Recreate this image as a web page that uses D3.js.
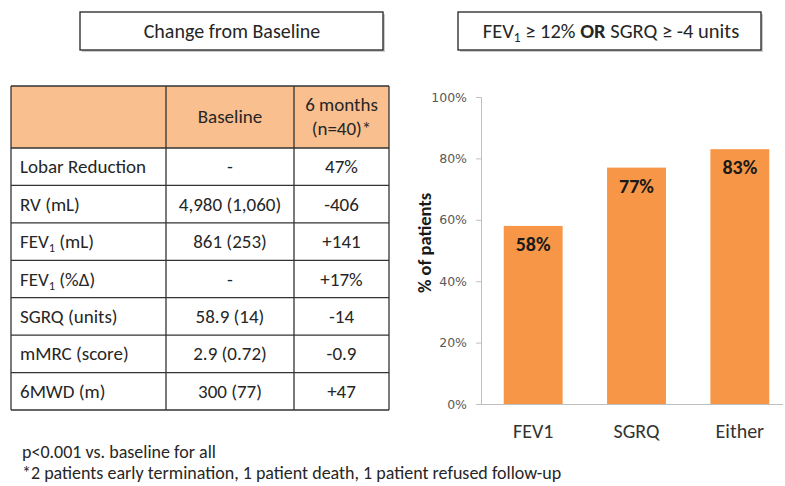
<!DOCTYPE html>
<html>
<head>
<meta charset="utf-8">
<script src="https://cdn.jsdelivr.net/npm/d3@7"></script>
<style>
  body { margin: 0; background: #fff; }
  text { font-family: Carlito, Lato, "Open Sans", sans-serif; }
</style>
</head>
<body>
<div id="chart"></div>
<script>
// table data
const columnHeaders = ["", "Baseline", "6 months|(n=40)*"];
const rowLabels = ["Lobar Reduction", "RV (mL)", "FEV_1 (mL)", "FEV_1 (%Δ)", "SGRQ  (units)", "mMRC (score)", "6MWD (m)"];
const baselineValues = ["-", "4,980 (1,060)", "861 (253)", "-", "58.9 (14)", "2.9 (0.72)", "300 (77)"];
const sixMonthValues = ["47%", "-406", "+141", "+17%", "-14", "-0.9", "+47"];

// bar chart data
const categories = ["FEV1", "SGRQ", "Either"];
const percentPatients = [0.58, 0.77, 0.83];
const yTicks = [0, 0.2, 0.4, 0.6, 0.8, 1.0];

const footnotes = [
  "p<0.001 vs. baseline for all",
  "*2 patients early termination, 1 patient death, 1 patient refused follow-up"
];

const width = 785, height = 486;
const textColor = "#262626";

const svg = d3.select("#chart").append("svg")
  .attr("width", width)
  .attr("height", height);

// write "FEV_1" style labels with a subscript tspan
const writeLabel = (sel, str) => {
  const parts = str.split("_1");
  parts.forEach((p, i) => {
    const ts = sel.append("tspan").text(p);
    if (i > 0) ts.attr("dy", -4);
    if (i < parts.length - 1) {
      sel.append("tspan").attr("font-size", "0.65em").attr("dy", 4).text("1");
    }
  });
};

// title boxes
const titleBox = (x, y, w, h) => {
  svg.append("rect")
    .attr("x", x + 2).attr("y", y + 2).attr("width", w).attr("height", h)
    .attr("fill", "#999").attr("opacity", 0.5);
  svg.append("rect")
    .attr("x", x).attr("y", y).attr("width", w).attr("height", h)
    .attr("fill", "#fff").attr("stroke", "#222").attr("stroke-width", 1.3);
};

titleBox(80, 12, 303, 38);
svg.append("text")
  .attr("x", 232).attr("y", 38)
  .attr("text-anchor", "middle")
  .attr("font-size", "20px")
  .attr("fill", textColor)
  .text("Change from Baseline");

titleBox(458, 12, 303, 38);
const t2 = svg.append("text")
  .attr("x", 611).attr("y", 38)
  .attr("text-anchor", "middle")
  .attr("font-size", "20.5px")
  .attr("fill", textColor);
t2.append("tspan").text("FEV");
t2.append("tspan").attr("font-size", "0.65em").attr("dy", 4).text("1");
t2.append("tspan").attr("dy", -4).text(" ≥ 12% ");
t2.append("tspan").attr("font-weight", "bold").text("OR");
t2.append("tspan").text(" SGRQ ≥ -4 units");

// ---- table ----
const colX = [11, 166, 294, 389];
const headerTop = 86, headerBottom = 148, tableBottom = 410;

const rowScale = d3.scaleBand()
  .domain(rowLabels)
  .range([headerBottom, tableBottom]);

const table = svg.append("g");

table.append("rect")
  .attr("x", colX[0]).attr("y", headerTop)
  .attr("width", colX[3] - colX[0]).attr("height", headerBottom - headerTop)
  .attr("fill", "#F9BF8F");

// header text
columnHeaders.forEach((h, i) => {
  if (!h) return;
  const lines = h.split("|");
  const cx = (colX[i] + colX[i + 1]) / 2;
  const cy = (headerTop + headerBottom) / 2;
  lines.forEach((ln, j) => {
    table.append("text")
      .attr("x", cx)
      .attr("y", cy + 6 + (j - (lines.length - 1) / 2) * 24)
      .attr("text-anchor", "middle")
      .attr("font-size", "19px")
      .attr("fill", textColor)
      .text(ln);
  });
});

// body rows
rowLabels.forEach((lab, i) => {
  const y = rowScale(lab) + rowScale.bandwidth() / 2 + 6.5;
  const t = table.append("text")
    .attr("x", colX[0] + 9).attr("y", y)
    .attr("font-size", "19px").attr("fill", textColor);
  writeLabel(t, lab);
  table.append("text")
    .attr("x", (colX[1] + colX[2]) / 2).attr("y", y)
    .attr("text-anchor", "middle")
    .attr("font-size", "19px").attr("fill", textColor)
    .text(baselineValues[i]);
  table.append("text")
    .attr("x", (colX[2] + colX[3]) / 2).attr("y", y)
    .attr("text-anchor", "middle")
    .attr("font-size", "19px").attr("fill", textColor)
    .text(sixMonthValues[i]);
});

// grid lines
const hLines = [headerTop, headerBottom].concat(rowLabels.map(r => rowScale(r) + rowScale.bandwidth()));
table.selectAll("line.h")
  .data(hLines)
  .join("line")
  .attr("x1", colX[0]).attr("x2", colX[3])
  .attr("y1", d => d).attr("y2", d => d)
  .attr("stroke", "#333").attr("stroke-width", 1.3);
table.selectAll("line.v")
  .data(colX)
  .join("line")
  .attr("x1", d => d).attr("x2", d => d)
  .attr("y1", headerTop).attr("y2", tableBottom)
  .attr("stroke", "#333").attr("stroke-width", 1.3);

// ---- bar chart ----
const xScale = d3.scaleBand()
  .domain(categories)
  .range([481, 792])
  .paddingInner(0.43)
  .paddingOuter(0.22);

const yScale = d3.scaleLinear()
  .domain([0, 1])
  .range([404, 97]);

const chart = svg.append("g");

chart.selectAll("rect.bar")
  .data(categories)
  .join("rect")
  .attr("class", "bar")
  .attr("x", d => xScale(d))
  .attr("y", (d, i) => yScale(percentPatients[i]))
  .attr("width", xScale.bandwidth())
  .attr("height", (d, i) => yScale(0) - yScale(percentPatients[i]))
  .attr("fill", "#F79646");

chart.selectAll("text.val")
  .data(categories)
  .join("text")
  .attr("class", "val")
  .attr("x", d => xScale(d) + xScale.bandwidth() / 2)
  .attr("y", (d, i) => yScale(percentPatients[i]) + 25)
  .attr("text-anchor", "middle")
  .attr("font-size", "20px")
  .attr("font-weight", "bold")
  .attr("fill", "#1a1a1a")
  .text((d, i) => d3.format(".0%")(percentPatients[i]));

// y axis
const yAxis = d3.axisLeft(yScale)
  .tickValues(yTicks)
  .tickFormat(d3.format(".0%"))
  .tickSize(5)
  .tickPadding(9);

const yG = chart.append("g")
  .attr("transform", "translate(481,0)")
  .call(yAxis);
yG.select(".domain").attr("stroke", "#BFBFBF");
yG.selectAll(".tick line").attr("stroke", "#BFBFBF");
yG.selectAll(".tick text")
  .style("font-family", "'DejaVu Sans', sans-serif")
  .style("font-size", "12.5px")
  .attr("fill", "#595959");

// x axis
const xAxis = d3.axisBottom(xScale).tickSize(0).tickPadding(20);
const xG = chart.append("g")
  .attr("transform", "translate(0,404)")
  .call(xAxis);
xG.select(".domain").attr("stroke", "#BFBFBF").attr("d", "M476,0.5H783");
xG.selectAll(".tick text")
  .attr("font-size", "20px")
  .attr("fill", "#333")
  .attr("font-family", "Carlito, Lato, sans-serif");

svg.append("text")
  .attr("transform", "translate(431,243) rotate(-90)")
  .attr("text-anchor", "middle")
  .attr("font-size", "18.5px")
  .attr("font-weight", "bold")
  .attr("fill", "#1a1a1a")
  .text("% of patients");

// footnotes
svg.selectAll("text.foot")
  .data(footnotes)
  .join("text")
  .attr("class", "foot")
  .attr("x", 22)
  .attr("y", (d, i) => 458 + i * 21)
  .attr("font-size", "18px")
  .attr("fill", textColor)
  .text(d => d);
</script>
</body>
</html>
